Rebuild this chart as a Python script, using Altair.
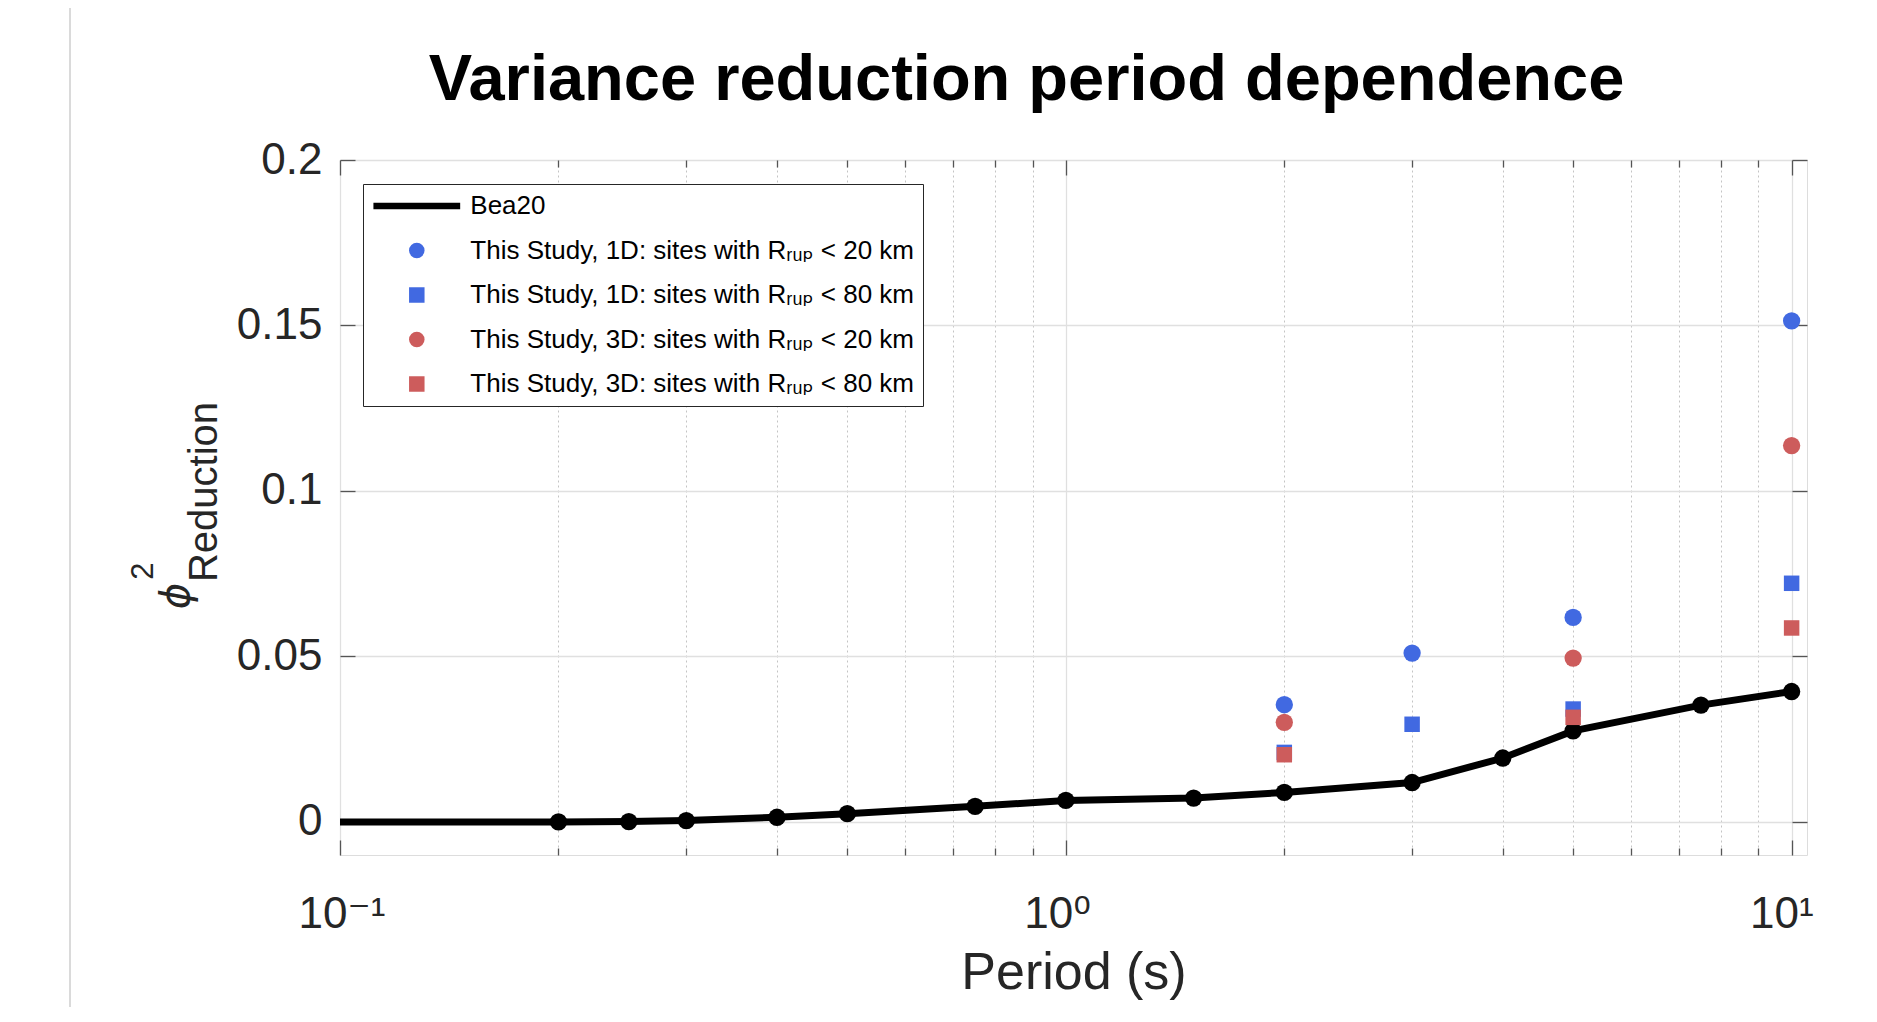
import altair as alt
import pandas as pd

# ---------------- data ----------------
bea_periods = [0.2, 0.25, 0.3, 0.4, 0.5, 0.75, 1.0, 1.5, 2.0, 3.0, 4.0, 5.0, 7.5, 10.0]
bea_values = [0.0, 0.0001, 0.0004, 0.0014, 0.0025, 0.0047, 0.0065, 0.0072, 0.0089,
              0.0119, 0.0193, 0.0275, 0.0353, 0.0394]
bea_lead_periods = [0.01]          # model curve continues at zero off the left edge
bea_lead_values = [0.0]

s1_periods = [2.0, 3.0, 5.0, 10.0]
s1_values = [0.0354, 0.0510, 0.0618, 0.1514]
s2_periods = [2.0, 3.0, 5.0, 10.0]
s2_values = [0.0210, 0.0295, 0.0341, 0.0721]
s3_periods = [2.0, 5.0, 10.0]
s3_values = [0.0301, 0.0495, 0.1137]
s4_periods = [2.0, 5.0, 10.0]
s4_values = [0.0203, 0.0316, 0.0586]

series_names = [
    "Bea20",
    "This Study, 1D: sites with R\u1d63\u1d64\u209a < 20 km",
    "This Study, 1D: sites with R\u1d63\u1d64\u209a < 80 km",
    "This Study, 3D: sites with R\u1d63\u1d64\u209a < 20 km",
    "This Study, 3D: sites with R\u1d63\u1d64\u209a < 80 km",
]
series_colors = ["#000000", "#4169E1", "#4169E1", "#CD5C5C", "#CD5C5C"]
series_shapes = ["M-5.6,-0.43H5.6V0.43H-5.6Z", "circle", "square", "circle", "square"]

x_major = [0.1, 1, 10]
x_minor = [0.2, 0.3, 0.4, 0.5, 0.6, 0.7, 0.8, 0.9, 2, 3, 4, 5, 6, 7, 8, 9]
y_ticks = [0, 0.05, 0.1, 0.15, 0.2]

title_text = "Variance reduction period dependence"
x_title = "Period (s)"

# ---------------- tables ----------------
line_df = pd.DataFrame({"period": bea_lead_periods + bea_periods,
                        "value": bea_lead_values + bea_values})
bea_df = pd.DataFrame({"period": bea_periods, "value": bea_values})


def series_df(items):
    return pd.concat([pd.DataFrame({"period": p, "value": v, "series": n})
                      for p, v, n in items], ignore_index=True)


circles_df = series_df([(s1_periods, s1_values, series_names[1]),
                        (s3_periods, s3_values, series_names[3])])
squares_df = series_df([(s2_periods, s2_values, series_names[2]),
                        (s4_periods, s4_values, series_names[4])])

FONT = "Liberation Sans, DejaVu Sans, Noto Sans"
TXT = "#262626"
W, H = 1467, 695

xs = alt.Scale(type="log", domain=[0.1, 10.5], nice=False)
ys = alt.Scale(domain=[-0.01, 0.2], nice=False, zero=False)


def X(axis):
    return alt.X("period:Q", scale=xs, axis=axis)


def Y(axis):
    return alt.Y("value:Q", scale=ys, axis=axis)


tick_style = dict(labels=False, domain=False, grid=False, title=None,
                  tickColor="#555555", tickWidth=1.3)

x_label_axis = alt.Axis(
    orient="bottom", values=x_major,
    labelExpr="datum.value < 0.5 ? '10\u207b\u00b9' : (datum.value < 5 ? '10\u2070' : '10\u00b9')",
    labelFont=FONT, labelFontSize=44, labelColor=TXT, labelAlign="left", labelOffset=-42,
    labelBaseline="alphabetic", labelPadding=72, labelFlush=False, labelOverlap=False,
    ticks=False, tickSize=0, domain=False,
    grid=True, gridColor="#e0e0e0", gridWidth=1.3,
    title=x_title, titleFont=FONT, titleFontSize=52, titleFontWeight="normal",
    titleColor=TXT, titleBaseline="alphabetic", titleY=133,
)
x_minor_grid = alt.Axis(orient="bottom", values=x_minor, labels=False, ticks=False,
                        domain=False, grid=True, gridColor="#c4c4c4", gridDash=[2, 3],
                        gridWidth=1, title=None)
x_bot_major = alt.Axis(orient="bottom", values=x_major, offset=-15, tickSize=15, **tick_style)
x_bot_minor = alt.Axis(orient="bottom", values=x_minor, offset=-7, tickSize=7, **tick_style)
x_top_major = alt.Axis(orient="top", values=x_major, offset=-15, tickSize=15, **tick_style)
x_top_minor = alt.Axis(orient="top", values=x_minor, offset=-7, tickSize=7, **tick_style)

y_label_axis = alt.Axis(
    orient="left", values=y_ticks, format="~g",
    labelFont=FONT, labelFontSize=44, labelColor=TXT, labelPadding=18,
    labelFlush=False, labelOverlap=False, ticks=False, tickSize=0, domain=False,
    grid=True, gridColor="#e0e0e0", gridWidth=1.3, title=None,
)
y_left_ticks = alt.Axis(orient="left", values=y_ticks, offset=-15, tickSize=15, **tick_style)
y_right_ticks = alt.Axis(orient="right", values=y_ticks, offset=-15, tickSize=15, **tick_style)

legend = alt.Legend(
    title=None, orient="none", legendX=23, legendY=24, padding=9,
    strokeColor="#262626", fillColor="white",
    labelFont=FONT, labelFontSize=26, labelColor="black", labelLimit=2000,
    symbolSize=240, symbolOffset=31.8, labelOffset=40.5, rowPadding=18.5,
    symbolStrokeWidth=0, symbolOpacity=1,
)
color_enc = alt.Color("series:N", scale=alt.Scale(domain=series_names, range=series_colors),
                      legend=legend)
shape_enc = alt.Shape("series:N", scale=alt.Scale(domain=series_names, range=series_shapes),
                      legend=legend)

line_layer = alt.Chart(line_df).mark_line(color="black", strokeWidth=7, clip=True).encode(
    x=X(x_label_axis), y=Y(y_label_axis))
dots_layer = alt.Chart(bea_df).mark_point(filled=True, color="black", opacity=1, size=300,
                                           shape="circle").encode(
    x=X(x_minor_grid), y=Y(y_left_ticks))
circles_layer = alt.Chart(circles_df).mark_point(filled=True, opacity=1, size=300).encode(
    x=X(x_bot_major), y=Y(y_right_ticks), color=color_enc, shape=shape_enc)
squares_layer = alt.Chart(squares_df).mark_point(filled=True, opacity=1, size=240).encode(
    x=X(None), y=Y(None), color=color_enc, shape=shape_enc)
carrier = alt.Chart(bea_df).mark_point(opacity=0)
c1 = carrier.encode(x=X(x_bot_minor), y=Y(None))
c2 = carrier.encode(x=X(x_top_major), y=Y(None))
c3 = carrier.encode(x=X(x_top_minor), y=Y(None))

one = alt.Data(values=[{}])
title_mark = alt.Chart(one).mark_text(font=FONT, fontSize=65, fontWeight="bold",
                                      align="center", baseline="alphabetic",
                                      color="black").encode(
    x=alt.value(W / 2 - 47), y=alt.value(-60), text=alt.value(title_text))
ytitle_main = alt.Chart(one).mark_text(font=FONT, fontSize=40, angle=270, align="center",
                                       baseline="alphabetic", color=TXT).encode(
    x=alt.value(-123), y=alt.value(332), text=alt.value("Reduction"))
ytitle_phi = alt.Chart(one).mark_text(font="DejaVu Sans", fontSize=40, fontStyle="italic",
                                      angle=270, align="center", baseline="middle",
                                      color=TXT).encode(
    x=alt.value(-163), y=alt.value(436), text=alt.value("\u03d5"))
ytitle_sup = alt.Chart(one).mark_text(font=FONT, fontSize=31, angle=270, align="center",
                                      baseline="middle", color=TXT).encode(
    x=alt.value(-196), y=alt.value(411), text=alt.value("2"))

page_rule = alt.Chart(one).mark_rule(color="#dadada", strokeWidth=2).encode(
    x=alt.value(-270), y=alt.value(-160), y2=alt.value(862))

chart = alt.layer(
    page_rule, line_layer, dots_layer, circles_layer, squares_layer, c1, c2, c3,
    title_mark, ytitle_main, ytitle_phi, ytitle_sup,
).resolve_axis(x="independent", y="independent").properties(
    width=W, height=H,
    padding={"left": 332, "top": 152, "right": 50, "bottom": 152},
    autosize=alt.AutoSizeParams(type="none"),
).configure_view(stroke="#4d4d4d", strokeWidth=1.3).configure(background="white")

chart.save("out.html", embed_options={"renderer": "svg", "actions": False})
